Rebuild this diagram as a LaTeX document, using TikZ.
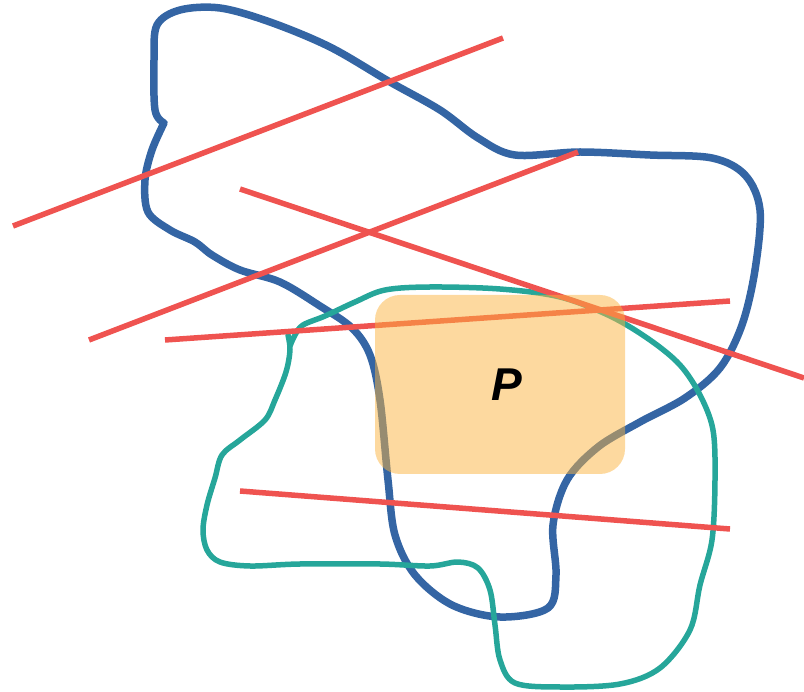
\documentclass[tikz,border=0pt]{standalone}
\usepackage{fontspec}
\setsansfont{Liberation Sans}
\definecolor{loopblue}{RGB}{52,101,164}
\definecolor{loopteal}{RGB}{38,166,154}
\definecolor{cutred}{RGB}{239,83,80}
\definecolor{boxorange}{RGB}{251,180,64}
\tikzset{
  bigloop/.style={loopblue, line width=7.5pt, line cap=round, line join=round},
  smallloop/.style={loopteal, line width=5.5pt, line cap=round, line join=round},
  cutline/.style={cutred, line width=5.5pt},
  regionbox/.style={fill=boxorange, fill opacity=0.5, text opacity=1, rounded corners=25pt,
    minimum width=250pt, minimum height=179pt, inner sep=0pt,
    font=\fontsize{46}{46}\selectfont\sffamily\bfseries\itshape}
}
\begin{document}
\begin{tikzpicture}[x=1pt, y=-1pt]
  \useasboundingbox (0,0) rectangle (804,692);
  % the two loops
  \draw[bigloop] plot[smooth, tension=0.55] coordinates {(164,123) (155,110) (154,60) (157,25)
    (180,10) (220,8) (270,22) (330,47) (390,82) (440,110) (478,138) (515,155) (580,152)
    (650,155) (712,158) (745,175) (760,210) (755,270) (742,325) (720,368) (685,398)
    (640,422) (598,447) (567,480) (553,525) (556,575) (548,608) (500,617) (452,605)
    (415,575) (395,535) (388,480) (380,400) (370,355) (352,328) (320,306) (280,282)
    (240,270) (212,255) (195,242) (170,230) (148,212) (145,180) (152,150) (164,123)};
  \draw[smallloop] plot[smooth, tension=0.55] coordinates {(288,335) (290,350) (286,372)
    (275,400) (265,420) (240,440) (222,455) (215,478) (207,505) (203,530) (207,550)
    (220,562) (250,566) (300,564) (380,564) (430,566) (458,562) (478,568) (490,590)
    (495,625) (500,660) (515,683) (560,687) (620,684) (660,668) (690,630) (700,585)
    (712,540) (715,480) (713,430) (700,395) (680,365) (650,340) (610,316) (560,297)
    (500,289) (430,287) (385,290) (355,302) (325,316) (303,325) (295,335) (290,346)};
  % cutting lines
  \draw[cutline] (13,226) -- (503,38);
  \draw[cutline] (89,340) -- (578,152);
  \draw[cutline] (240,189) -- (804,378);
  \draw[cutline] (165,340) -- (730,301);
  \draw[cutline] (240,491) -- (730,529);
  % region
  \node[regionbox] (P) at (500,384.5) {\hspace{14pt}P};
\end{tikzpicture}
\end{document}
